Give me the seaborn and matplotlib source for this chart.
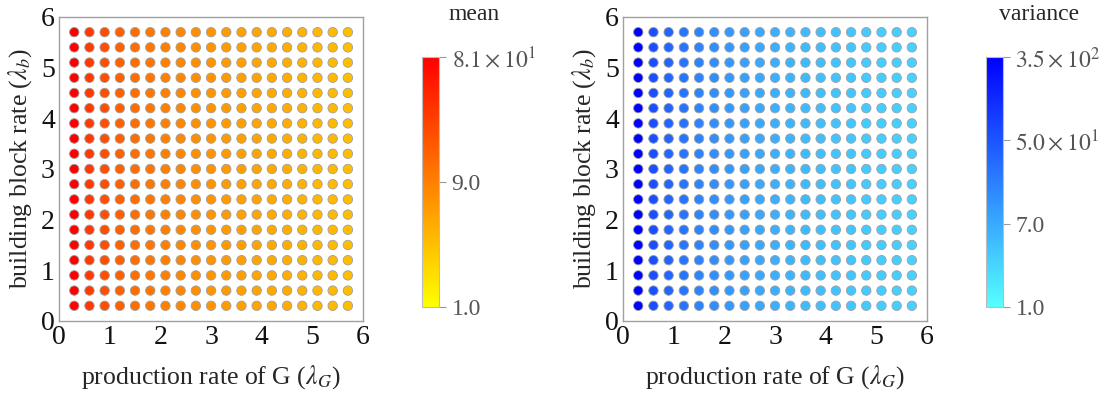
import numpy as np
import pandas as pd
import matplotlib
matplotlib.use("Agg")
import matplotlib.pyplot as plt
import seaborn as sns
from matplotlib.colors import LinearSegmentedColormap, LogNorm
from matplotlib.cm import ScalarMappable

# grid of rates (same for both panels)
lambda_G = [0.3, 0.6, 0.9, 1.2, 1.5, 1.8, 2.1, 2.4, 2.7, 3.0,
            3.3, 3.6, 3.9, 4.2, 4.5, 4.8, 5.1, 5.4, 5.7]
lambda_b = [0.3, 0.6, 0.9, 1.2, 1.5, 1.8, 2.1, 2.4, 2.7, 3.0,
            3.3, 3.6, 3.9, 4.2, 4.5, 4.8, 5.1, 5.4, 5.7]

# values read per column (colour does not change along lambda_b)
mean_by_G = [81, 30, 21, 15.5, 12.5, 10.5, 9.0, 7.9, 7.0, 6.3,
             5.7, 5.2, 4.8, 4.4, 4.1, 3.8, 3.5, 3.3, 3.1]
var_by_G = [350, 57, 34, 24, 17, 13, 10.5, 8.7, 7.3, 6.3,
            5.5, 4.9, 4.4, 4.0, 3.7, 3.4, 3.2, 3.0, 2.9]

mean_ticks = [1.0, 9.0, 81.0]
mean_ticklabels = ["1.0", "9.0", r"$8.1\times10^{1}$"]
var_ticks = [1.0, 7.0, 50.0, 350.0]
var_ticklabels = ["1.0", "7.0", r"$5.0\times10^{1}$", r"$3.5\times10^{2}$"]

rows = []
for j, b in enumerate(lambda_b):
    for i, g in enumerate(lambda_G):
        rows.append({"lG": g, "lb": b, "mean": mean_by_G[i], "var": var_by_G[i]})
df = pd.DataFrame(rows)

sns.set_style("white")
plt.rcParams["font.family"] = ["Liberation Serif", "DejaVu Serif"]
plt.rcParams["mathtext.fontset"] = "stix"

cmap_mean = LinearSegmentedColormap.from_list("ym", ["#ffff00", "#ff8000", "#ff0000"])
cmap_var = LinearSegmentedColormap.from_list("cb", ["#55ffff", "#0000ff"])

fig = plt.figure(figsize=(11.1, 3.94), dpi=100)
ax1 = fig.add_axes([0.0532, 0.1853, 0.2739, 0.7716])
ax2 = fig.add_axes([0.5613, 0.1853, 0.2739, 0.7716])
cax1 = fig.add_axes([0.3802, 0.2208, 0.0153, 0.6345])
cax2 = fig.add_axes([0.8883, 0.2208, 0.0153, 0.6345])

panels = [
    (ax1, cax1, "mean", cmap_mean, LogNorm(1.0, 81.0), mean_ticks, mean_ticklabels, "mean", 474),
    (ax2, cax2, "var", cmap_var, LogNorm(1.0, 350.0), var_ticks, var_ticklabels, "variance", 1039),
]

for ax, cax, col, cmap, norm, ticks, tlabels, title, tx in panels:
    sns.scatterplot(data=df, x="lG", y="lb", hue=col, palette=cmap, hue_norm=norm,
                    s=46, edgecolor="#a0a0a0", linewidth=0.6, legend=False, ax=ax)
    ax.set_xlim(0, 6)
    ax.set_ylim(0, 6)
    ax.set_xticks(range(7))
    ax.set_yticks(range(7))
    ax.tick_params(direction="in", length=4, color="#999999", labelsize=20,
                   labelcolor="#111111", pad=3)
    for sp in ax.spines.values():
        sp.set_color("#a0a0a0")
        sp.set_linewidth(1.0)
    ax.set_xlabel(r"production rate of G ($\lambda_G$)", fontsize=18.5, labelpad=9)
    ax.set_ylabel(r"building block rate ($\lambda_b$)", fontsize=18.5, labelpad=5)

    sm = ScalarMappable(norm=norm, cmap=cmap)
    cb = fig.colorbar(sm, cax=cax)
    cb.set_ticks(ticks)
    cb.set_ticklabels(tlabels)
    cb.ax.minorticks_off()
    cb.ax.tick_params(length=5, color="#999999", labelsize=17, labelcolor="#555555", pad=4)
    cb.outline.set_edgecolor("#bbbbbb")
    cb.outline.set_linewidth(0.8)
    fig.text(tx / 1110, 1 - 15 / 394, title, ha="center", va="center", fontsize=17)

fig.savefig("out.png", dpi=100)
